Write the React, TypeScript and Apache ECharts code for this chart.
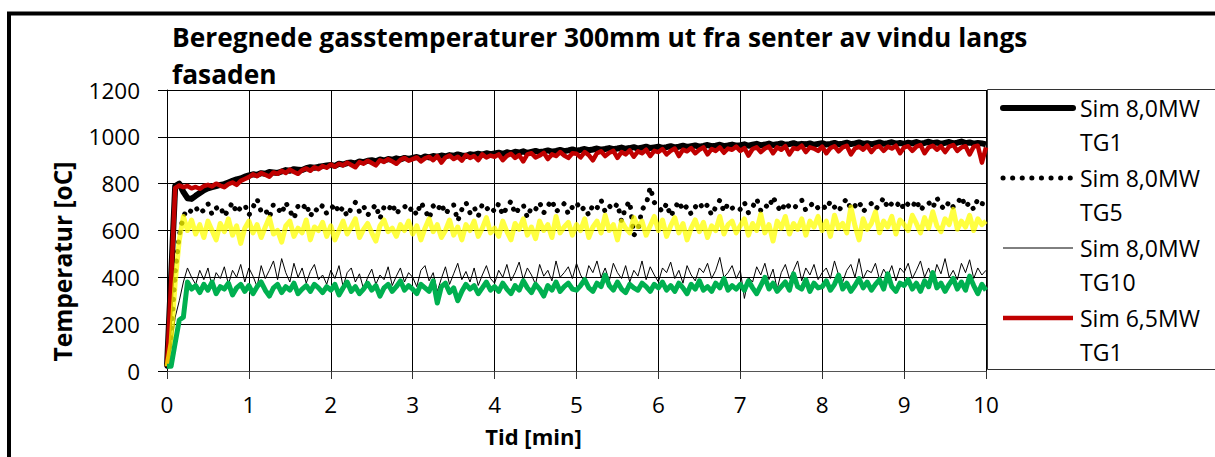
import React, { useEffect, useRef } from "react";
import * as echarts from "echarts";

const TITLE = "Beregnede gasstemperaturer 300mm ut fra senter av vindu langs\nfasaden";
const X_NAME = "Tid [min]";
const Y_NAME = "Temperatur [oC]";
const TIME_STEP = 0.05; // minutes between samples

// Sim 8,0MW TG1 (thick black)
const sim80TG1 = [
  20, 400, 790, 800, 765, 738, 735, 748, 760, 772, 780, 785, 790, 795, 798, 805, 812, 818, 822, 830,
  835, 840, 838, 845, 842, 850, 848, 846, 852, 858, 855, 862, 860, 858, 866, 870, 868, 872, 875, 878,
  880, 876, 885, 882, 888, 890, 886, 895, 892, 898, 900, 896, 903, 899, 905, 902, 908, 904, 910, 906,
  910, 914, 908, 916, 912, 918, 915, 920, 917, 922, 919, 925, 921, 918, 926, 923, 928, 924, 930, 926,
  929, 932, 927, 934, 930, 936, 933, 938, 931, 936, 940, 935, 938, 942, 937, 940, 944, 939, 942, 946,
  941, 944, 948, 943, 946, 950, 945, 948, 952, 947, 950, 954, 949, 952, 956, 950, 954, 958, 952, 955,
  958, 953, 956, 960, 955, 958, 962, 957, 960, 963, 958, 961, 965, 960, 962, 966, 960, 963, 967, 962,
  964, 968, 962, 966, 970, 964, 967, 971, 965, 968, 972, 966, 969, 973, 967, 970, 968, 972, 966, 970,
  973, 967, 970, 974, 968, 971, 975, 969, 972, 976, 970, 973, 968, 972, 976, 970, 973, 977, 971, 974,
  970, 975, 972, 978, 971, 974, 979, 973, 976, 970, 974, 978, 972, 975, 980, 973, 976, 971, 974, 972,
  968,
];

// Sim 8,0MW TG5 (dotted black)
const sim80TG5 = [
  20, 150, 420, 580, 660, 692, 680, 700, 672, 688, 715, 668, 695, 705, 660, 690, 720, 675, 698, 710,
  665, 700, 735, 680, 690, 655, 712, 698, 670, 720, 685, 650, 705, 690, 715, 660, 695, 680, 708, 672,
  690, 715, 675, 700, 660, 695, 720, 680, 705, 665, 690, 710, 650, 700, 685, 715, 670, 695, 705, 680,
  700, 665, 720, 690, 650, 705, 685, 715, 670, 695, 710, 640, 690, 720, 675, 700, 660, 712, 690, 705,
  680, 715, 665, 700, 725, 670, 695, 710, 655, 700, 690, 720, 675, 705, 730, 680, 695, 715, 670, 700,
  720, 685, 700, 665, 710, 695, 730, 680, 705, 690, 715, 640, 700, 725, 580, 600, 690, 710, 785, 720,
  700, 680, 715, 660, 695, 725, 685, 705, 670, 700, 720, 690, 710, 665, 700, 730, 680, 715, 695, 705,
  690, 720, 675, 700, 735, 685, 710, 695, 745, 705, 680, 720, 700, 690, 715, 730, 685, 705, 720, 695,
  710, 690, 725, 700, 680, 715, 735, 690, 705, 725, 680, 700, 715, 690, 710, 740, 695, 715, 700, 725,
  690, 715, 700, 730, 685, 710, 720, 695, 740, 705, 690, 725, 700, 715, 745, 700, 720, 690, 735, 715,
  710,
];

// Sim 8,0MW TG10 (thin black)
const sim80TG10 = [
  20, 100, 230, 300, 380, 440, 400, 370, 430, 390, 440, 360, 420, 395, 445, 370, 430, 400, 455, 380,
  440, 405, 360, 450, 395, 430, 470, 390, 480, 420, 380, 460, 400, 440, 375, 425, 455, 390, 410, 370,
  430, 395, 450, 360, 420, 440, 380, 415, 350, 400, 435, 370, 410, 390, 445, 365, 405, 440, 380, 420,
  400, 360, 430, 450, 385, 420, 340, 395, 445, 370, 415, 460, 390, 425, 380, 440, 365, 410, 450, 395,
  375, 430, 400, 455, 385, 420, 465, 390, 440, 410, 370, 455, 405, 430, 385, 470, 400, 420, 445, 395,
  460, 410, 380, 450, 420, 470, 400, 440, 385, 460, 420, 395, 450, 380, 430, 405, 470, 390, 445, 410,
  380, 440, 420, 465, 395, 430, 375, 450, 410, 385, 440, 420, 460, 395, 430, 485, 400, 420, 450, 395,
  430, 310, 400, 380, 445, 410, 460, 390, 435, 350, 420, 455, 395, 430, 470, 385, 440, 410, 455, 390,
  420, 440, 395, 470, 410, 380, 430, 455, 400, 480, 395, 430, 420, 460, 390, 435, 405, 450, 385, 440,
  420, 460, 395, 430, 470, 400, 440, 385, 455, 415, 480, 400, 430, 390, 460, 420, 475, 395, 440, 410,
  430,
];

// Sim 6,5MW TG1 (red)
const sim65TG1 = [
  20, 380, 782, 792, 785, 790, 780, 786, 778, 790, 795, 788, 800, 792, 785, 798, 805, 795, 812, 820,
  828, 840, 832, 845, 838, 830, 848, 842, 855, 846, 860, 850, 842, 858, 865, 855, 870, 862, 875, 868,
  882, 872, 885, 878, 890, 880, 870, 892, 885, 898, 888, 878, 900, 893, 905, 895, 885, 902, 910, 898,
  905, 912, 895, 908, 915, 900, 918, 890, 912, 920, 905, 915, 898, 922, 910, 918, 900, 925, 912, 920,
  915, 925, 900, 918, 928, 910, 922, 895, 925, 930, 912, 920, 932, 905, 925, 918, 935, 920, 910, 930,
  928, 912, 935, 922, 900, 930, 938, 918, 932, 940, 910, 935, 925, 942, 915, 938, 930, 945, 918, 940,
  935, 948, 925, 940, 950, 918, 945, 938, 952, 930, 945, 955, 925, 948, 940, 955, 932, 950, 945, 958,
  940, 952, 920, 948, 955, 935, 950, 958, 930, 955, 945, 960, 925, 952, 948, 962, 935, 955, 950, 940,
  958, 930, 952, 960, 938, 955, 962, 925, 950, 958, 945, 962, 935, 955, 960, 940, 958, 950, 962, 930,
  955, 960, 940, 958, 965, 930, 955, 962, 945, 960, 935, 958, 965, 940, 955, 960, 925, 958, 962, 890,
  955,
];

// Sim 6,5MW TG5 (yellow, not in legend)
const sim65TG5 = [
  20, 120, 380, 560, 660, 600, 645, 585, 625, 570, 640, 600, 560, 630, 595, 650, 580, 620, 545, 610,
  640, 590, 625, 570, 615, 655, 585, 600, 550, 620, 640, 575, 610, 590, 645, 560, 615, 600, 635, 575,
  620, 560, 600, 640, 585, 615, 650, 570, 605, 630, 590, 555, 620, 645, 595, 610, 575, 625, 600, 640,
  585, 620, 560, 610, 650, 595, 625, 570, 600, 645, 580, 615, 560, 625, 600, 640, 575, 610, 655, 590,
  610, 575, 640, 595, 560, 630, 605, 650, 580, 615, 565, 640, 600, 625, 570, 660, 590, 615, 635, 580,
  625, 600, 650, 570, 615, 640, 590, 665, 600, 625, 560, 640, 610, 590, 655, 615, 640, 580, 620, 660,
  600, 645, 575, 620, 655, 590, 630, 560, 610, 645, 595, 635, 570, 620, 600, 660, 585, 625, 640, 590,
  620, 650, 580, 630, 600, 670, 590, 625, 555, 640, 610, 660, 585, 630, 605, 650, 580, 640, 615, 660,
  600, 640, 575, 665, 610, 630, 590, 700, 620, 560, 650, 605, 630, 680, 590, 640, 615, 660, 585, 645,
  625, 600, 665, 630, 590, 655, 610, 680, 620, 595, 650, 625, 690, 605, 640, 615, 665, 600, 650, 625,
  640,
];

// Sim 6,5MW TG10 (green, not in legend)
const sim65TG10 = [
  20, 20, 120, 218, 230, 380, 350, 365, 335, 370, 345, 380, 330, 360, 350, 375, 325, 355, 370, 340,
  365, 330, 360, 380, 345, 320, 355, 370, 335, 360, 345, 375, 330, 350, 365, 340, 370, 355, 335, 360,
  345, 370, 325, 355, 380, 340, 360, 330, 350, 375, 345, 365, 320, 355, 370, 340, 360, 385, 345, 365,
  350, 330, 370, 355, 340, 385, 290, 360, 375, 335, 355, 300, 340, 370, 350, 365, 330, 355, 380, 345,
  360, 340, 375, 350, 330, 365, 345, 385, 355, 335, 370, 350, 320, 365, 345, 380, 340, 360, 375, 350,
  345, 365, 390, 355, 340, 375, 360, 410, 365, 345, 380, 350, 335, 370, 355, 345, 375, 360, 340, 370,
  355, 380, 345, 365, 340, 375, 355, 330, 370, 350, 385, 345, 360, 340, 375, 355, 395, 345, 365, 350,
  370, 345, 385, 355, 330, 365, 400, 350, 375, 340, 360, 380, 345, 415, 360, 350, 390, 340, 375, 355,
  360, 385, 345, 370, 410, 350, 375, 340, 365, 395, 355, 380, 345, 370, 390, 350, 415, 360, 340, 375,
  365, 390, 350, 375, 340, 385, 360, 420, 355, 375, 340, 370, 395, 350, 380, 345, 405, 365, 330, 370,
  345,
];

const LEGEND_NAMES = ["Sim 8,0MW\nTG1", "Sim 8,0MW\nTG5", "Sim 8,0MW\nTG10", "Sim 6,5MW\nTG1"];

const FONT = "'Open Sans', 'Noto Sans', sans-serif";
const DOT_DASH = [0.1, 9.5];

function pairs(values: number[]) {
  return values.map((v, i) => [Math.round(i * TIME_STEP * 100) / 100, v]);
}

export default function App() {
  const ref = useRef<HTMLDivElement>(null);
  useEffect(() => {
    if (!ref.current) return;
    const chart = echarts.init(ref.current, undefined, { renderer: "svg" });

    const legendX = 1003;
    const legendY0 = 108;
    const legendStep = 70;
    const legendStyles: any[] = [
      { stroke: "#000", lineWidth: 6, lineCap: "round" },
      { stroke: "#000", lineWidth: 5, lineCap: "round", lineDash: DOT_DASH },
      { stroke: "#000", lineWidth: 1 },
      { stroke: "#C00000", lineWidth: 4.5 },
    ];
    const legendGraphics: any[] = [];
    LEGEND_NAMES.forEach((name, i) => {
      const y = legendY0 + i * legendStep;
      legendGraphics.push({
        type: "line",
        shape: { x1: legendX, y1: y, x2: legendX + 70, y2: y },
        style: legendStyles[i],
        silent: true,
      });
      legendGraphics.push({
        type: "text",
        x: legendX + 77,
        y: y - 17,
        style: {
          text: name,
          font: `23px ${FONT}`,
          fill: "#000",
          lineHeight: 34,
          verticalAlign: "top",
          align: "left",
        },
        silent: true,
      });
    });

    chart.setOption({
      animation: false,
      backgroundColor: "#fff",
      title: {
        text: TITLE,
        left: 172,
        top: 18,
        padding: 0,
        textStyle: {
          fontFamily: FONT,
          fontWeight: "bold",
          fontSize: 26.3,
          lineHeight: 37,
          color: "#000",
        },
      },
      grid: { left: 167, top: 90, right: 229, bottom: 86 },
      xAxis: {
        type: "value",
        min: 0,
        max: 10,
        interval: 1,
        name: X_NAME,
        nameLocation: "middle",
        nameGap: 54,
        nameTextStyle: {
          fontFamily: FONT,
          fontWeight: "bold",
          fontSize: 22,
          color: "#000",
          padding: [0, 86, 0, 0],
        },
        axisLine: { show: true, lineStyle: { color: "#555", width: 1 } },
        axisTick: { show: true, length: 8, lineStyle: { color: "#333" } },
        axisLabel: { fontFamily: FONT, fontSize: 22.5, color: "#000", margin: 22 },
        splitLine: { show: true, lineStyle: { color: "#000", width: 1 } },
      },
      yAxis: {
        type: "value",
        min: 0,
        max: 1200,
        interval: 200,
        name: Y_NAME,
        nameLocation: "middle",
        nameGap: 92,
        nameTextStyle: {
          fontFamily: FONT,
          fontWeight: "bold",
          fontSize: 24.5,
          color: "#000",
          padding: [0, 62, 0, 0],
        },
        axisLine: { show: true, lineStyle: { color: "#000", width: 1 } },
        axisTick: { show: true, length: 9, lineStyle: { color: "#000" } },
        axisLabel: {
          fontFamily: FONT,
          fontSize: 22.5,
          color: "#000",
          margin: 27,
          formatter: (v: number) => String(v),
        },
        splitLine: { show: true, lineStyle: { color: "#000", width: 1 } },
      },
      series: [
        {
          name: "Sim 8,0MW TG1",
          type: "line",
          data: pairs(sim80TG1),
          showSymbol: false,
          symbol: "none",
          lineStyle: { color: "#000", width: 6, join: "round" },
          itemStyle: { color: "#000" },
        },
        {
          name: "Sim 8,0MW TG5",
          type: "line",
          data: pairs(sim80TG5),
          showSymbol: false,
          symbol: "none",
          lineStyle: { color: "#000", width: 5, type: DOT_DASH, cap: "round", join: "round" },
          itemStyle: { color: "#000" },
        },
        {
          name: "Sim 8,0MW TG10",
          type: "line",
          data: pairs(sim80TG10),
          showSymbol: false,
          symbol: "none",
          lineStyle: { color: "#000", width: 1 },
          itemStyle: { color: "#000" },
        },
        {
          name: "Sim 6,5MW TG1",
          type: "line",
          data: pairs(sim65TG1),
          showSymbol: false,
          symbol: "none",
          lineStyle: { color: "#C00000", width: 4.5, join: "round" },
          itemStyle: { color: "#C00000" },
        },
        {
          name: "Sim 6,5MW TG5",
          type: "line",
          data: pairs(sim65TG5),
          showSymbol: false,
          symbol: "none",
          lineStyle: { color: "#FFFF00", width: 5, opacity: 0.75, join: "round" },
          itemStyle: { color: "#FFFF00" },
        },
        {
          name: "Sim 6,5MW TG10",
          type: "line",
          data: pairs(sim65TG10),
          showSymbol: false,
          symbol: "none",
          lineStyle: { color: "#00B050", width: 5, join: "round" },
          itemStyle: { color: "#00B050" },
        },
      ],
      graphic: [
        {
          type: "rect",
          shape: { x: 9, y: 13.5, width: 1400, height: 600 },
          style: { fill: "none", stroke: "#000", lineWidth: 4 },
          silent: true,
          z: 100,
        },
        {
          type: "rect",
          shape: { x: 987.5, y: 89.5, width: 400, height: 280 },
          style: { fill: "#fff", stroke: "#333", lineWidth: 1 },
          silent: true,
        },
        ...legendGraphics,
      ],
    });
    return () => chart.dispose();
  }, []);
  return (
    <div
      ref={ref}
      style={{ position: "fixed", left: 0, top: 0, width: 1215, height: 457, background: "#fff" }}
    />
  );
}
